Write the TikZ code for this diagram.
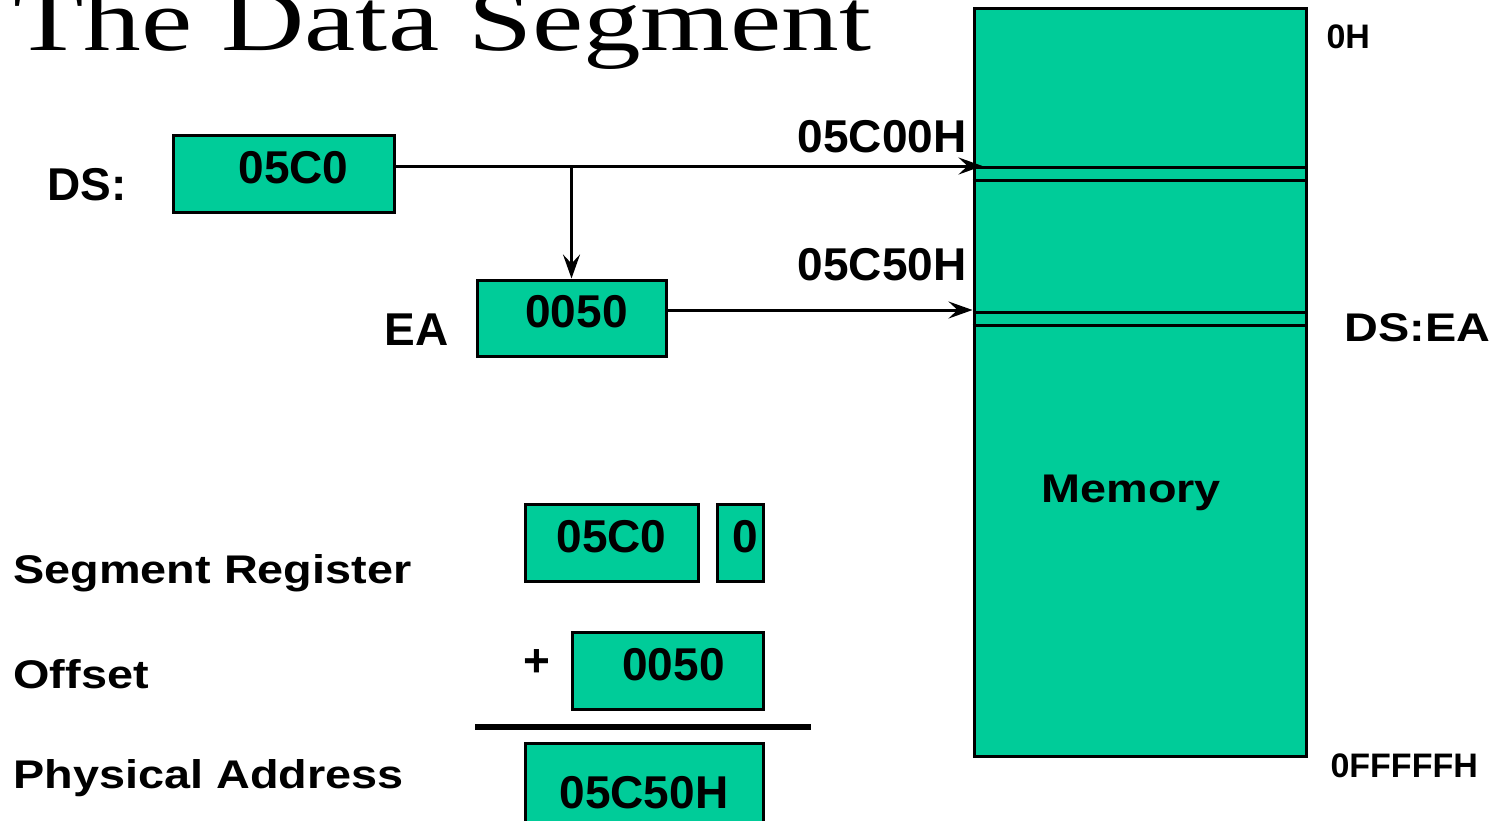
\documentclass[tikz,border=0pt]{standalone}
\usepackage{fontspec}
\setmainfont{Liberation Sans}
\newfontfamily\widesf[FakeStretch=1.17]{Liberation Sans}
\newfontfamily\titlerm[FakeStretch=1.31]{Liberation Serif}
\usetikzlibrary{arrows.meta}
\definecolor{memgreen}{RGB}{0,204,153}

\begin{document}
\begin{tikzpicture}[x=0.5pt,y=-0.5pt,line width=1.5pt]
        \tikzstyle{reg}=[draw=black,fill=memgreen,inner sep=0pt,minimum height=38.5pt,font=\fontsize{23}{27}\selectfont\bfseries,text height=16.5pt,text depth=7pt]
        \tikzstyle{lbl}=[inner sep=0pt,anchor=base west,font=\fontsize{23}{27}\selectfont\bfseries]
        \tikzstyle{wide}=[inner sep=0pt,anchor=base west,font=\fontsize{20}{24}\widesf\bfseries]
        \tikzstyle{addr}=[inner sep=0pt,anchor=base west,font=\fontsize{17}{20}\selectfont\bfseries]
        \tikzstyle{link}=[draw,-{Stealth[length=12pt,width=8.5pt,inset=4.5pt]}]
        \useasboundingbox (0,0) rectangle (1491,820);

        \node [inner sep=0pt,anchor=base west,font=\fontsize{44}{48}\titlerm] (title) at (12,50) {The Data Segment};

        % memory
        \node [draw=black,fill=memgreen,inner sep=0pt,minimum width=166pt,minimum height=374pt] (mem) at (1140,382) {};
        \draw (mem.west |- 0,167) -- (mem.east |- 0,167);
        \draw (mem.west |- 0,180) -- (mem.east |- 0,180);
        \draw (mem.west |- 0,312) -- (mem.east |- 0,312);
        \draw (mem.west |- 0,325) -- (mem.east |- 0,325);
        \node [wide] (memtxt) at (1040,502) {Memory};
        \node [addr] (top) at (1325,48) {0H};
        \node [addr] (bot) at (1329,777) {0FFFFFH};
        \node [wide] (dsea) at (1343,341) {DS:EA};

        % registers
        \node [lbl] (dslbl) at (46,200) {DS:};
        \node [reg,minimum width=110.5pt] (ds) at (283.5,173.5) {\hspace*{10pt}05C0};
        \node [lbl] (ealbl) at (383,345) {EA};
        \node [reg,minimum width=94.5pt,minimum height=38pt] (ea) at (571.5,318) {\hspace*{5pt}0050};

        \coordinate (seg) at (mem.west |- 0,166);
        \coordinate (eff) at (mem.west |- 0,310);
        \node [lbl,anchor=base east] (segaddr) at (968,152) {05C00H};
        \node [lbl,anchor=base east] (effaddr) at (968,280) {05C50H};

        \path[link] (ds.east |- seg) -- ([xshift=5pt]seg);
        \path[link] (ea.north |- seg) -- (ea.north);
        \path[link] (ea.east |- eff) -- (eff);

        % address sum
        \node [wide] (sreglbl) at (12,583) {Segment Register};
        \node [wide] (offlbl) at (12,688) {Offset};
        \node [wide] (physlbl) at (12,788) {Physical Address};

        \node [reg,minimum width=86.5pt] (sreg) at (611.5,542.5) {05C0};
        \node [reg,minimum width=23pt] (zero) at (740,542.5) {\hspace*{5pt}0};
        \node [inner sep=0pt,font=\fontsize{23}{27}\selectfont\bfseries] (plus) at (537,663) {+};
        \node [reg,minimum width=95.5pt] (off) at (667.5,670.5) {\hspace*{6pt}0050};
        \draw [line width=3pt] (475,727) -- (811,727);
        \node [reg,minimum width=119pt,minimum height=40pt,text height=25pt,text depth=0pt] (phys) at (644,783) {05C50H};
\end{tikzpicture}
\end{document}
